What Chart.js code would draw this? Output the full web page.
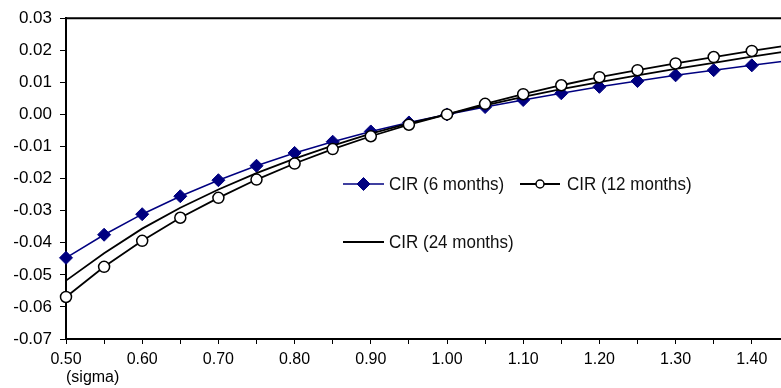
<!DOCTYPE html>
<html><head><meta charset="utf-8">
<script src="https://cdn.jsdelivr.net/npm/chart.js@4.4.1/dist/chart.umd.min.js"></script>
<style>
html,body{margin:0;padding:0;overflow:hidden;background:#fff;width:781px;height:388px}
#wrap{position:absolute;left:0;top:0;width:900px;height:388px}
</style>
</head><body><div id="wrap"><canvas id="c" width="900" height="388"></canvas></div>
<script>
// x values (sigma)
const sigma = [0.50,0.55,0.60,0.65,0.70,0.75,0.80,0.85,0.90,0.95,1.00,1.05,1.10,1.15,1.20,1.25,1.30,1.35,1.40,1.45,1.50];
// series values
const cir6  = [-0.0447,-0.0375,-0.0311,-0.0255,-0.0205,-0.0160,-0.0120,-0.0085,-0.0053,-0.0025,0.0000,0.0023,0.0045,0.0066,0.0086,0.0104,0.0122,0.0138,0.0153,0.0168,0.0182];
const cir12 = [-0.0569,-0.0475,-0.0394,-0.0322,-0.0260,-0.0203,-0.0153,-0.0108,-0.0068,-0.0032,0.0000,0.0033,0.0063,0.0091,0.0116,0.0138,0.0159,0.0179,0.0198,0.0216,0.0233];
const cir24 = [-0.0518,-0.0433,-0.0356,-0.0291,-0.0234,-0.0183,-0.0138,-0.0097,-0.0060,-0.0028,0.0000,0.0028,0.0055,0.0079,0.0101,0.0122,0.0142,0.0161,0.0180,0.0198,0.0214];
// tick labels
const xTickLabels = ['0.50','0.60','0.70','0.80','0.90','1.00','1.10','1.20','1.30','1.40','1.50'];
const yTicks = [-0.07,-0.06,-0.05,-0.04,-0.03,-0.02,-0.01,0.00,0.01,0.02,0.03];
const yTickLabels = ['-0.07','-0.06','-0.05','-0.04','-0.03','-0.02','-0.01','0.00','0.01','0.02','0.03'];
const seriesNames = ['CIR (6 months)','CIR (12 months)','CIR (24 months)'];
const xTitle = '(sigma)';

const FONT = 'Liberation Sans, Arial, sans-serif';
const toXY = arr => sigma.map((s,i)=>({x:s,y:arr[i]}));

const frame = {
  id:'frame',
  afterDatasetsDraw(chart){
    const {ctx, chartArea:a} = chart;
    ctx.save();
    ctx.strokeStyle='#000'; ctx.lineWidth=2;
    ctx.beginPath();
    ctx.moveTo(a.left-1,a.top); ctx.lineTo(a.right,a.top);
    ctx.moveTo(a.right,a.top); ctx.lineTo(a.right,a.bottom);
    ctx.stroke();
    ctx.restore();
  }
};

const legendPlug = {
  id:'legendPlug',
  afterDraw(chart){
    const ctx = chart.ctx;
    const ds = chart.data.datasets;
    const byLabel = l => ds.find(d=>d.label===l);
    const items = [
      {d:byLabel(seriesNames[0]), x0:343, x1:384, tx:389, y:184, r:6.5},
      {d:byLabel(seriesNames[1]), x0:520, x1:560, tx:567, y:184, r:4},
      {d:byLabel(seriesNames[2]), x0:343, x1:384, tx:389, y:242, r:0}
    ];
    ctx.save();
    items.forEach(it=>{
      const d = it.d;
      ctx.strokeStyle = d.borderColor; ctx.lineWidth = d.borderWidth;
      ctx.beginPath(); ctx.moveTo(it.x0,it.y); ctx.lineTo(it.x1,it.y); ctx.stroke();
      if (it.r>0){
        ctx.fillStyle = d.pointBackgroundColor; ctx.strokeStyle = d.pointBorderColor; ctx.lineWidth = d.pointBorderWidth;
        Chart.helpers.drawPoint(ctx,{pointStyle:d.pointStyle,rotation:0,radius:it.r,borderWidth:d.pointBorderWidth},(it.x0+it.x1)/2,it.y);
      }
      ctx.save();
      ctx.translate(it.tx,it.y+1);
      ctx.scale(1,1.13);
      ctx.fillStyle='#111'; ctx.font='17px '+FONT; ctx.textBaseline='middle'; ctx.textAlign='left';
      ctx.fillText(d.label,0,0);
      ctx.restore();
    });
    ctx.restore();
  }
};

new Chart(document.getElementById('c'),{
  type:'line',
  data:{datasets:[
    {label:seriesNames[1],data:toXY(cir12),borderColor:'#000',borderWidth:1.8,pointStyle:'circle',pointRadius:5.5,pointBackgroundColor:'#fff',pointBorderColor:'#000',pointBorderWidth:1.5,tension:0,clip:false},
    {label:seriesNames[2],data:toXY(cir24),borderColor:'#000',borderWidth:1.8,pointRadius:0,pointBorderWidth:0,tension:0,clip:false},
    {label:seriesNames[0],data:toXY(cir6),borderColor:'#000080',borderWidth:1.5,pointStyle:'rectRot',pointRadius:6.5,pointBackgroundColor:'#000080',pointBorderColor:'#000080',pointBorderWidth:1,tension:0,clip:false}
  ]},
  options:{
    responsive:false, animation:false, devicePixelRatio:1,
    layout:{padding:{top:14,right:72,left:0,bottom:0}},
    plugins:{legend:{display:false},tooltip:{enabled:false}},
    scales:{
      x:{type:'linear',min:0.5,max:1.5,
        afterBuildTicks:s=>{s.ticks=sigma.map(v=>({value:v}));},
        afterFit:s=>{s.height=49;},
        ticks:{autoSkip:false,maxRotation:0,color:'#000',font:{family:FONT,size:16},padding:6,
          callback:(v,i)=>{const k=Math.round(v*100);return k%10===0?xTickLabels[(k-50)/10]:'';}},
        grid:{drawOnChartArea:false,drawTicks:true,tickLength:5,color:'#000',lineWidth:1},
        border:{color:'#000',width:2},
        title:{display:true,text:xTitle,align:'start',color:'#000',font:{family:FONT,size:16},padding:{top:0,bottom:1}}
      },
      y:{type:'linear',min:-0.07,max:0.03,
        afterBuildTicks:s=>{s.ticks=yTicks.map(v=>({value:v}));},
        afterFit:s=>{s.width=66;},
        ticks:{color:'#000',font:{family:FONT,size:17},padding:8,
          callback:(v,i)=>yTickLabels[i]},
        grid:{drawOnChartArea:false,drawTicks:true,tickLength:6,color:'#000',lineWidth:1},
        border:{color:'#000',width:2}
      }
    }
  },
  plugins:[frame,legendPlug]
});
</script>
</body></html>
